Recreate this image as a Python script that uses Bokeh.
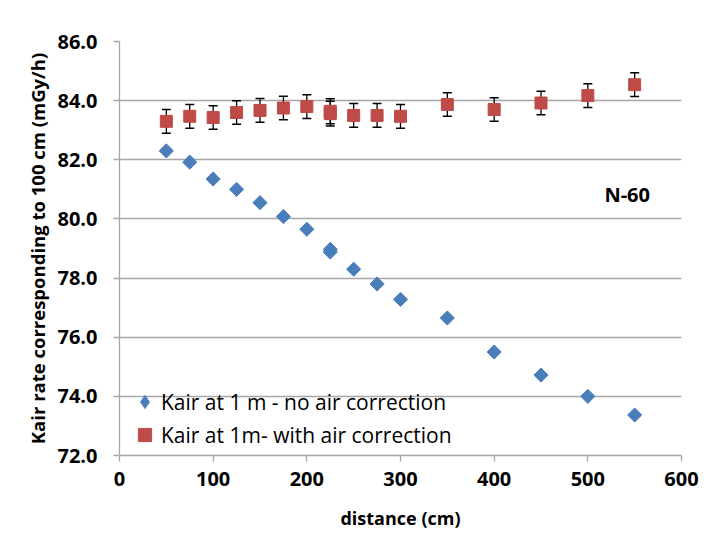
from bokeh.plotting import figure
from bokeh.models import (Range1d, Whisker, TeeHead, ColumnDataSource, Legend, LegendItem,
                          Label, FixedTicker, PrintfTickFormatter)
from bokeh.embed import file_html
from bokeh.resources import INLINE
import math

# distances (cm)
dist_no = [50, 75, 100, 125, 150, 175, 200, 225, 225, 250, 275, 300, 350, 400, 450, 500, 550]
kair_no = [82.3, 81.92, 81.35, 81.0, 80.55, 80.08, 79.65, 78.97, 78.88, 78.3, 77.8, 77.28, 76.65, 75.5, 74.72, 74.0, 73.37]

dist_corr = [50, 75, 100, 125, 150, 175, 200, 225, 225, 250, 275, 300, 350, 400, 450, 500, 550]
kair_corr = [83.3, 83.47, 83.43, 83.6, 83.67, 83.75, 83.8, 83.64, 83.56, 83.5, 83.5, 83.47, 83.87, 83.7, 83.92, 84.17, 84.54]
kair_err = [0.4, 0.4, 0.4, 0.4, 0.4, 0.4, 0.4, 0.42, 0.42, 0.4, 0.4, 0.4, 0.4, 0.4, 0.4, 0.4, 0.4]

x_ticks = [0, 100, 200, 300, 400, 500, 600]
y_ticks = [72, 74, 76, 78, 80, 82, 84, 86]

FONT = "Open Sans"
BLUE = "#4a7ebb"
RED = "#be4b48"

p = figure(width=708, height=532, output_backend="svg", toolbar_location=None,
           x_range=Range1d(0, 600), y_range=Range1d(72, 86),
           min_border_left=119, min_border_right=27, min_border_top=41, min_border_bottom=75)
p.outline_line_color = None
p.background_fill_color = "white"
p.border_fill_color = "white"

p.xgrid.grid_line_color = None
p.ygrid.grid_line_color = "#a6a6a6"
p.ygrid.grid_line_width = 1.3
p.ygrid.ticker = FixedTicker(ticks=y_ticks)

for ax in (p.xaxis, p.yaxis):
    ax.axis_line_color = "#a6a6a6"
    ax.axis_line_width = 1.3
    ax.major_tick_line_color = "#a6a6a6"
    ax.major_tick_line_width = 1.3
    ax.major_tick_in = 0
    ax.major_tick_out = 6
    ax.minor_tick_line_color = None
    ax.major_label_text_font = FONT
    ax.major_label_text_font_style = "bold"
    ax.major_label_text_font_size = "20px"
    ax.major_label_text_color = "black"
    ax.axis_label_text_font = FONT
    ax.axis_label_text_font_style = "bold"
    ax.axis_label_text_color = "black"

p.xaxis.axis_label_text_font_size = "18px"
p.yaxis.axis_label_text_font_size = "18.5px"
p.xaxis.ticker = FixedTicker(ticks=x_ticks)
p.yaxis.ticker = FixedTicker(ticks=y_ticks)
p.yaxis.formatter = PrintfTickFormatter(format="%.1f")
p.xaxis.major_label_standoff = 10
p.yaxis.major_label_standoff = 16
p.xaxis.axis_label = "distance (cm)"
p.yaxis.axis_label = "Kair rate corresponding to 100 cm (mGy/h)"
p.xaxis.axis_label_standoff = 17
p.yaxis.axis_label_standoff = 4

# error bars
src_c = ColumnDataSource(dict(x=dist_corr, y=kair_corr,
                              lo=[v - e for v, e in zip(kair_corr, kair_err)],
                              hi=[v + e for v, e in zip(kair_corr, kair_err)]))
wh = Whisker(source=src_c, base="x", upper="hi", lower="lo",
             line_color="black", line_width=1.3,
             upper_head=TeeHead(size=9, line_color="black", line_width=1.5),
             lower_head=TeeHead(size=9, line_color="black", line_width=1.5))
p.add_layout(wh)

# legend-key glyph (diamond shape), hidden beneath the first data point
r_no_key = p.scatter(dist_no[:1], kair_no[:1], marker="diamond", size=12,
                     fill_color=BLUE, line_color=BLUE)
r_no = p.scatter(dist_no, kair_no, marker="square", angle=math.pi / 4, size=10,
                 fill_color=BLUE, line_color=BLUE)
r_c = p.scatter("x", "y", source=src_c, marker="square", size=12,
                fill_color=RED, line_color=RED)

legend = Legend(items=[LegendItem(label="Kair at 1 m - no air correction", renderers=[r_no_key]),
                       LegendItem(label="Kair at 1m- with air correction", renderers=[r_c])],
                location=(9, 4), orientation="vertical",
                background_fill_alpha=0, border_line_color=None,
                label_text_font=FONT, label_text_font_size="21px", label_text_color="black",
                glyph_width=33, glyph_height=33, spacing=-5, padding=0, margin=0,
                label_standoff=0)
p.add_layout(legend, "center")

p.add_layout(Label(x=542, y=80.84, text="N-60", text_font=FONT, text_font_style="bold",
                   text_font_size="20px", text_align="center", text_baseline="middle",
                   text_color="black"))

open("out.html", "w").write(file_html(p, INLINE))
